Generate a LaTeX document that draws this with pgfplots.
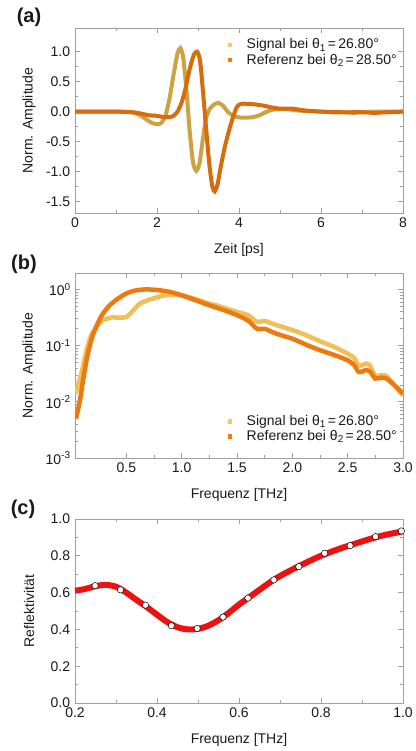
\documentclass[border=0pt]{standalone}
\usepackage{fontspec}
\setmainfont{Liberation Sans}
\usepackage{pgfplots}
\pgfplotsset{compat=1.18}
\definecolor{axgray}{HTML}{A0A0A0}
\definecolor{txt}{HTML}{1A1A1A}
\definecolor{sigA}{HTML}{CDA243}
\definecolor{refA}{HTML}{D86B0C}
\definecolor{sigB}{HTML}{F0C058}
\definecolor{refB}{HTML}{EC7A10}
\definecolor{legS}{HTML}{F5C869}
\definecolor{legR}{HTML}{F07A1A}
\definecolor{redc}{HTML}{EE1111}
\newcommand\sub[1]{\raisebox{-0.3ex}{\fontsize{10}{10}\selectfont #1}}
\newcommand\sups[1]{\raisebox{0.75ex}{\fontsize{10}{10}\selectfont #1}}
\pgfplotsset{
  myax/.style={
    scale only axis, width=328pt, height=185pt,
    axis line style={axgray, line width=0.8pt},
    every tick/.style={axgray, line width=0.8pt},
    major tick length=5pt, minor tick length=3pt,
    tick align=inside,
    xtick pos=both, ytick pos=both,
    /pgf/number format/assume math mode=true,
    tick label style={text=txt},
    label style={text=txt},
    xlabel style={at={(axis description cs:0.5,-0.2)}, anchor=center},
    ylabel style={at={(axis description cs:-0.14,0.5)}, anchor=center},
    legend style={draw=none, fill=none, text=txt, row sep=-1pt},
    legend cell align=left,
  },
  fx1/.style={/pgf/number format/.cd, fixed, fixed zerofill, precision=1},
  legsq/.style={legend image code/.code={\path[draw=none,fill=none] (0pt,0pt) -- (17pt,0pt);\fill[#1, draw=none] (0pt,-2.2pt) rectangle (4.4pt,2.2pt);}},
}
\begin{document}
\fontsize{14}{17}\selectfont
\begin{tikzpicture}
\useasboundingbox (0pt,0pt) rectangle (415pt,751pt);

% ---------- (a)
\begin{axis}[myax, at={(75pt,538pt)}, anchor=south west,
  xmin=0, xmax=8, ymin=-1.69, ymax=1.395,
  xtick={0,2,4,6,8}, minor x tick num=1,
  ytick={-1.5,-1,-0.5,0,0.5,1}, minor y tick num=1,
  yticklabel style={fx1},
  xlabel={Zeit [ps]}, ylabel={Norm. Amplitude},
  legend style={at={(0.997,0.965)}, anchor=north east}]
\addplot[forget plot, color=sigA, line width=4pt, smooth, tension=0.4] coordinates {
(0,0) (1.0,0) (1.3,-0.005) (1.5,-0.03) (1.7,-0.11) (1.85,-0.18) (2.0,-0.21) (2.1,-0.19)
(2.2,-0.08) (2.3,0.2) (2.4,0.6) (2.5,0.97) (2.57,1.06) (2.64,0.9) (2.72,0.35) (2.8,-0.35)
(2.88,-0.85) (2.96,-0.99) (3.04,-0.85) (3.12,-0.45) (3.2,-0.1) (3.3,0.06) (3.42,0.13)
(3.52,0.14) (3.62,0.09) (3.75,-0.02) (3.9,-0.08) (4.05,-0.1) (4.2,-0.1) (4.35,-0.09)
(4.5,-0.06) (4.65,-0.01) (4.8,0.03) (5.0,0.04) (5.2,0.04) (5.4,0.02) (5.7,0.01) (6.0,0.0)
(6.3,-0.01) (6.6,-0.01) (6.8,-0.02) (7.0,-0.01) (7.3,0.0) (7.6,0) (8,0)};
\addplot[forget plot, color=refA, line width=4pt, smooth, tension=0.4] coordinates {
(0,0) (1.0,0) (1.4,-0.01) (1.6,-0.03) (1.8,-0.06) (2.0,-0.07) (2.15,-0.09) (2.3,-0.09)
(2.4,-0.07) (2.5,0.0) (2.6,0.15) (2.7,0.4) (2.8,0.72) (2.9,0.95) (2.98,1.0) (3.05,0.85)
(3.12,0.35) (3.2,-0.3) (3.28,-0.9) (3.35,-1.25) (3.41,-1.33) (3.48,-1.2) (3.56,-0.9)
(3.65,-0.6) (3.75,-0.33) (3.85,-0.1) (3.95,0.08) (4.05,0.13) (4.2,0.13) (4.4,0.12)
(4.6,0.1) (4.8,0.07) (5.0,0.05) (5.3,0.05) (5.6,0.02) (6.0,0.0) (6.5,-0.01) (7.0,-0.01)
(7.3,-0.02) (7.6,-0.01) (8,0)};
\addlegendimage{legsq=legS}
\addlegendentry{Signal bei θ\sub{1}\,=\,26.80°}
\addlegendimage{legsq=legR}
\addlegendentry{Referenz bei θ\sub{2}\,=\,28.50°}
\end{axis}

% ---------- (b)
\begin{axis}[myax, at={(75pt,293pt)}, anchor=south west,
  ymode=log, xmin=0.036, xmax=3.0, ymin=1e-3, ymax=1.97,
  xtick={0.5,1,1.5,2,2.5,3}, minor x tick num=1,
  xticklabel style={fx1},
  ytick={1e-3,1e-2,1e-1,1},
  yticklabels={10\sups{-3},10\sups{-2},10\sups{-1},10\sups{0}},
  xlabel={Frequenz [THz]}, ylabel={Norm. Amplitude},
  legend style={at={(0.997,0.06)}, anchor=south east}]
\addplot[forget plot, color=sigB, line width=4.5pt, smooth, tension=0.4] coordinates {
(0.04,0.0139) (0.09,0.03) (0.14,0.083) (0.18,0.15) (0.23,0.215) (0.28,0.28) (0.32,0.30)
(0.37,0.32) (0.43,0.315) (0.5,0.325) (0.56,0.42) (0.62,0.56) (0.68,0.63) (0.74,0.69)
(0.8,0.75) (0.86,0.79) (0.93,0.8) (1.0,0.79) (1.08,0.72) (1.16,0.645) (1.25,0.56)
(1.32,0.52) (1.4,0.46) (1.5,0.40) (1.6,0.35) (1.68,0.265) (1.75,0.275) (1.85,0.235)
(2.0,0.19) (2.12,0.155) (2.25,0.12) (2.38,0.095) (2.5,0.072) (2.56,0.06) (2.6,0.044)
(2.67,0.048) (2.7,0.045) (2.75,0.029) (2.8,0.03) (2.85,0.029) (2.92,0.02) (3.0,0.013)};
\addplot[forget plot, color=refB, line width=4.5pt, smooth, tension=0.4] coordinates {
(0.045,0.005) (0.08,0.0105) (0.11,0.025) (0.14,0.055) (0.17,0.1) (0.2,0.16) (0.26,0.30)
(0.3,0.4) (0.35,0.525) (0.42,0.68) (0.5,0.85) (0.57,0.95) (0.65,1.0) (0.72,1.0)
(0.8,0.97) (0.9,0.9) (1.0,0.79) (1.12,0.65) (1.25,0.525) (1.38,0.43) (1.5,0.35)
(1.6,0.28) (1.68,0.2) (1.75,0.2) (1.85,0.165) (2.0,0.133) (2.12,0.105) (2.25,0.083)
(2.38,0.068) (2.5,0.055) (2.56,0.045) (2.6,0.034) (2.67,0.037) (2.7,0.035) (2.75,0.026)
(2.8,0.027) (2.85,0.026) (2.92,0.02) (3.0,0.014)};
\addlegendimage{legsq=legS}
\addlegendentry{Signal bei θ\sub{1}\,=\,26.80°}
\addlegendimage{legsq=legR}
\addlegendentry{Referenz bei θ\sub{2}\,=\,28.50°}
\end{axis}

% ---------- (c)
\begin{axis}[myax, at={(75pt,48pt)}, anchor=south west, height=184pt,
  xmin=0.2, xmax=1.0, ymin=0, ymax=1,
  xtick={0.2,0.4,0.6,0.8,1.0}, minor x tick num=1,
  ytick={0,0.2,0.4,0.6,0.8,1.0}, minor y tick num=1,
  xticklabel style={fx1}, yticklabel style={fx1},
  xlabel={Frequenz [THz]}, ylabel={Reflektivität},
  clip=false]
\addplot[color=redc, line width=6pt, smooth, tension=0.5] coordinates {
(0.2,0.61) (0.225,0.62) (0.25,0.635) (0.275,0.642) (0.3,0.632) (0.325,0.6) (0.35,0.56)
(0.375,0.522) (0.4,0.48) (0.425,0.44) (0.45,0.412) (0.475,0.40) (0.5,0.403) (0.525,0.42)
(0.55,0.45) (0.575,0.49) (0.6,0.535) (0.625,0.575) (0.65,0.615) (0.675,0.655) (0.7,0.69)
(0.725,0.72) (0.75,0.748) (0.775,0.775) (0.8,0.80) (0.825,0.822) (0.85,0.842) (0.875,0.86)
(0.9,0.878) (0.925,0.895) (0.95,0.91) (0.975,0.922) (1.0,0.933)};
\addplot[only marks, mark=*, mark size=3.2pt, mark options={fill=white, draw=black, line width=0.5pt}] coordinates {
(0.249,0.638) (0.311,0.615) (0.372,0.532) (0.435,0.420) (0.498,0.405) (0.561,0.467)
(0.622,0.570) (0.685,0.669) (0.746,0.741) (0.809,0.814) (0.871,0.855) (0.933,0.904) (0.996,0.935)};
\end{axis}

\node[font=\fontsize{20}{22}\selectfont\bfseries, text=txt] at (29pt,734pt) {(a)};
\node[font=\fontsize{20}{22}\selectfont\bfseries, text=txt] at (24pt,487pt) {(b)};
\node[font=\fontsize{20}{22}\selectfont\bfseries, text=txt] at (23pt,242pt) {(c)};
\end{tikzpicture}
\end{document}
